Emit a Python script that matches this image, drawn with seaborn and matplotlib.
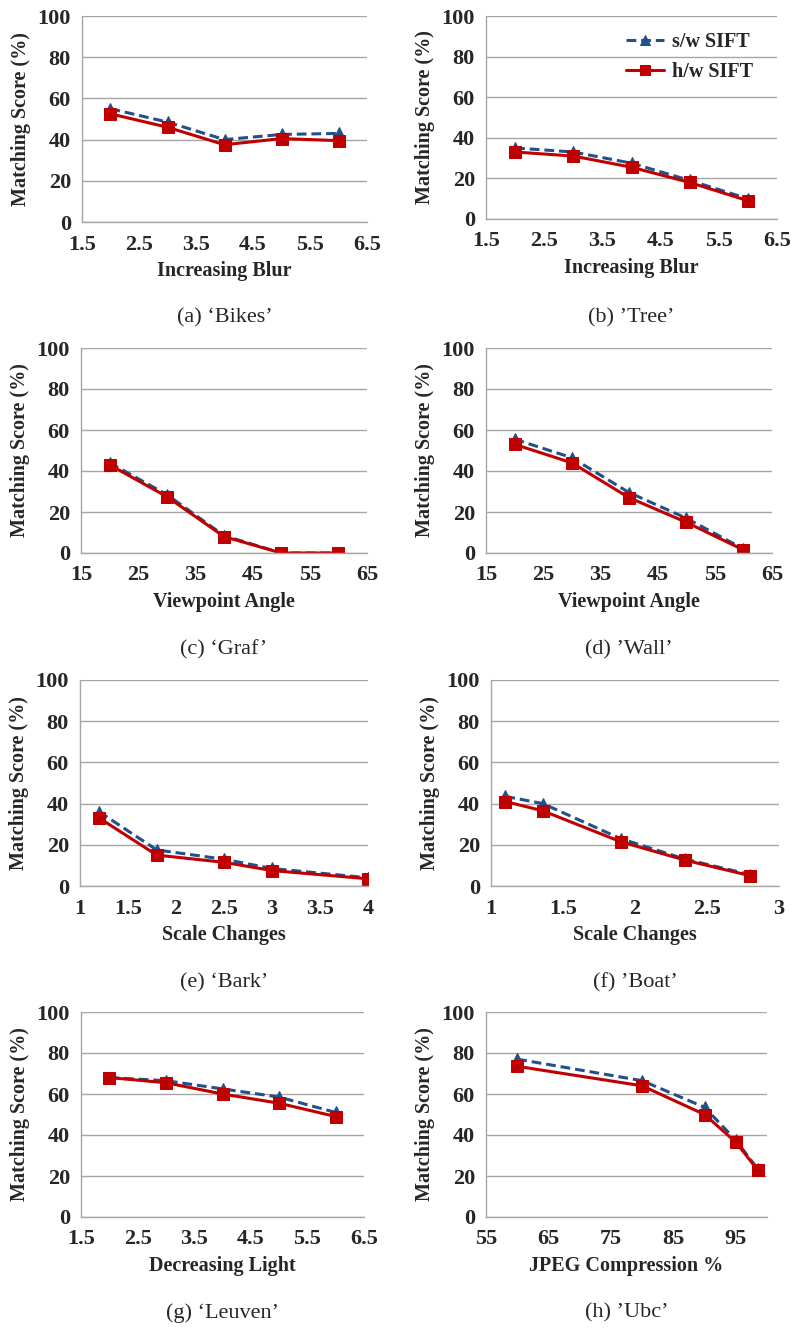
import matplotlib
matplotlib.use("Agg")
import matplotlib.pyplot as plt
import seaborn as sns

# Panel data
bikes_x = [2, 3, 4, 5, 6]
bikes_sw = [55, 48.5, 40, 42.5, 43]
bikes_hw = [52.5, 46, 37.5, 40.5, 39.5]

tree_x = [2, 3, 4, 5, 6]
tree_sw = [35, 33, 27.5, 19, 10]
tree_hw = [33, 31, 25.5, 18, 9]

graf_x = [20, 30, 40, 50, 60]
graf_sw = [44, 28.5, 8.5, 0, 0]
graf_hw = [43, 27.5, 8, 0, 0]

wall_x = [20, 30, 40, 50, 60]
wall_sw = [55.5, 46.5, 29.5, 17, 2]
wall_hw = [53, 44, 27, 15, 1.5]

bark_x = [1.2, 1.8, 2.5, 3, 4]
bark_sw = [36, 17.5, 13, 8.5, 4]
bark_hw = [33, 15, 11.5, 7.5, 3.5]

boat_x = [1.1, 1.36, 1.9, 2.35, 2.8]
boat_sw = [43.5, 40, 23, 13, 5.5]
boat_hw = [41, 36.5, 21.5, 12.5, 5]

leuven_x = [2, 3, 4, 5, 6]
leuven_sw = [68, 66.5, 62.5, 58.5, 51]
leuven_hw = [68, 65.5, 60, 55.5, 49]

ubc_x = [60, 80, 90, 95, 98.5]
ubc_sw = [77, 66.5, 53.5, 37.5, 23.5]
ubc_hw = [73.5, 64, 50, 36.5, 23]

x_labels = ["Increasing Blur", "Increasing Blur", "Viewpoint Angle", "Viewpoint Angle",
            "Scale Changes", "Scale Changes", "Decreasing Light", "JPEG Compression %"]
captions = ["(a) \u2018Bikes\u2019", "(b) \u2019Tree\u2019", "(c) \u2018Graf\u2019", "(d) \u2019Wall\u2019",
            "(e) \u2018Bark\u2019", "(f) \u2019Boat\u2019", "(g) \u2018Leuven\u2019", "(h) \u2019Ubc\u2019"]
series_names = ["s/w SIFT", "h/w SIFT"]

panels = [
    (bikes_x, bikes_sw, bikes_hw, (1.5, 6.5), [1.5, 2.5, 3.5, 4.5, 5.5, 6.5], ["1.5", "2.5", "3.5", "4.5", "5.5", "6.5"]),
    (tree_x, tree_sw, tree_hw, (1.5, 6.5), [1.5, 2.5, 3.5, 4.5, 5.5, 6.5], ["1.5", "2.5", "3.5", "4.5", "5.5", "6.5"]),
    (graf_x, graf_sw, graf_hw, (15, 65), [15, 25, 35, 45, 55, 65], ["15", "25", "35", "45", "55", "65"]),
    (wall_x, wall_sw, wall_hw, (15, 65), [15, 25, 35, 45, 55, 65], ["15", "25", "35", "45", "55", "65"]),
    (bark_x, bark_sw, bark_hw, (1, 4), [1, 1.5, 2, 2.5, 3, 3.5, 4], ["1", "1.5", "2", "2.5", "3", "3.5", "4"]),
    (boat_x, boat_sw, boat_hw, (1, 3), [1, 1.5, 2, 2.5, 3], ["1", "1.5", "2", "2.5", "3"]),
    (leuven_x, leuven_sw, leuven_hw, (1.5, 6.5), [1.5, 2.5, 3.5, 4.5, 5.5, 6.5], ["1.5", "2.5", "3.5", "4.5", "5.5", "6.5"]),
    (ubc_x, ubc_sw, ubc_hw, (55, 100), [55, 65, 75, 85, 95, 100], ["55", "65", "75", "85", "95", ""]),
]

# axes boxes in pixels: left, right, top, bottom
boxes = [
    (82, 367, 16, 222), (486, 777, 16, 219),
    (81, 367, 348, 553), (486, 772, 348, 553),
    (80, 368, 680, 886), (491, 779, 680, 886),
    (81, 364, 1012, 1217), (486, 767, 1012, 1217),
]
caption_y = [318, 318, 650, 650, 983, 983, 1313, 1313]

sns.set_style("white")
plt.rcParams['font.family'] = ['Liberation Serif', 'DejaVu Serif']

W, H = 791, 1329
fig = plt.figure(figsize=(W / 100, H / 100), dpi=100)

blue = "#24508A"
red = "#C00000"
grey = "#A6A6A6"

for i, (xs, sw, hw, xlim, xticks, xticklabels) in enumerate(panels):
    l, r, t, b = boxes[i]
    ax = fig.add_axes([l / W, 1 - b / H, (r - l) / W, (b - t) / H])
    sns.lineplot(x=xs, y=sw, ax=ax, color=blue, linewidth=2.2,
                 marker="^", markersize=8, markeredgecolor=blue, label=series_names[0])
    ax.lines[-1].set_linestyle((0, (3.2, 1.6)))
    sns.lineplot(x=xs, y=hw, ax=ax, color=red, linewidth=2.2,
                 marker="s", markersize=8, markeredgecolor=red, label=series_names[1])
    ax.set_xlim(*xlim)
    ax.set_ylim(0, 100)
    ax.set_xticks(xticks)
    ax.set_xticklabels(xticklabels)
    ax.set_yticks([0, 20, 40, 60, 80, 100])
    ax.yaxis.grid(True, color=grey, linewidth=1.0)
    ax.set_axisbelow(True)
    for s in ["top", "right"]:
        ax.spines[s].set_visible(False)
    for s in ["left", "bottom"]:
        ax.spines[s].set_color(grey)
        ax.spines[s].set_linewidth(1.0)
    ax.tick_params(axis="both", direction="out", length=5, width=1.0, color=grey,
                   labelsize=16, pad=3)
    ax.tick_params(axis="x", pad=4)
    for lab in ax.get_xticklabels() + ax.get_yticklabels():
        lab.set_fontweight("bold")
    ax.set_xlabel(x_labels[i], fontsize=14.5, fontweight="bold", labelpad=5)
    ax.set_ylabel("Matching Score (%)", fontsize=14.5, fontweight="bold", labelpad=5)
    if i == 1:
        ax.legend(loc="upper right", frameon=False, handlelength=1.9, handletextpad=0.4,
                  prop={"weight": "bold", "size": 14.5}, labelspacing=0.5,
                  markerscale=0.85, bbox_to_anchor=(0.98, 1.01))
    else:
        ax.get_legend().remove()
    fig.text((l + r) / 2 / W, 1 - caption_y[i] / H, captions[i], ha="center", va="center",
             fontsize=16)

plt.savefig("out.png", dpi=100)
plt.close()
